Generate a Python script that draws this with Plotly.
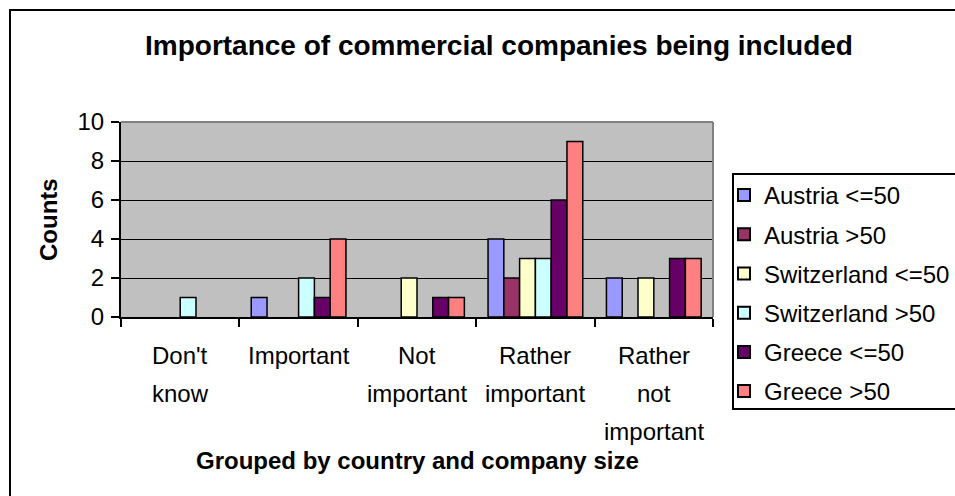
import plotly.graph_objects as go

categories = ["Don't<br>know", "Important", "Not<br>important", "Rather<br>important", "Rather<br>not<br>important"]
series_names = ["Austria <=50", "Austria >50", "Switzerland <=50", "Switzerland >50", "Greece <=50", "Greece >50"]
austria_small = [0, 1, 0, 4, 2]
austria_large = [0, 0, 0, 2, 0]
swiss_small = [0, 0, 2, 3, 2]
swiss_large = [1, 2, 0, 3, 0]
greece_small = [0, 1, 1, 6, 3]
greece_large = [0, 4, 1, 9, 3]
series_values = [austria_small, austria_large, swiss_small, swiss_large, greece_small, greece_large]
colors = ["#9999FF", "#993366", "#FFFFCC", "#CCFFFF", "#660066", "#FF8080"]
y_ticks = [0, 2, 4, 6, 8, 10]

FONT = "Liberation Sans, Arial, sans-serif"
W, H = 955, 496
L, R, T, B = 121, 713, 122, 317  # plot area px

def px_x(px):
    return (px - L) / (R - L)

def px_y(py):
    return 1 - (py - T) / (B - T)

fig = go.Figure()
for i, (name, vals, col) in enumerate(zip(series_names, series_values, colors)):
    fig.add_trace(go.Bar(
        x=categories, y=vals, name=name, legendgroup=f"g{i}",
        marker=dict(color=col, line=dict(color="black", width=[1.5 if v else 0 for v in vals])),
    ))

fig.update_layout(
    width=W, height=H,
    margin=dict(l=L, r=W - R, t=T, b=H - B, autoexpand=False),
    paper_bgcolor="white",
    plot_bgcolor="#C0C0C0",
    barmode="group", bargap=0.2, bargroupgap=0,
    font=dict(family=FONT, size=24, color="black"),
    title=dict(text="<b>Importance of commercial companies being included</b>",
               font=dict(family=FONT, size=28, color="black"),
               x=499 / W, xanchor="center", xref="container",
               y=1 - 45 / H, yanchor="middle", yref="container"),
    legend=dict(x=px_x(724), xanchor="left", y=px_y(173), yanchor="top",
                bgcolor="rgba(0,0,0,0)", borderwidth=0, maxheight=480,
                font=dict(family=FONT, size=24, color="black"),
                tracegroupgap=5, itemsizing="constant"),
    showlegend=True,
)
fig.update_xaxes(
    showline=True, linecolor="black", linewidth=2,
    ticks="outside", tickson="boundaries", ticklen=8, tickwidth=2, tickcolor="black",
    showgrid=False, showticklabels=False,
)
fig.update_yaxes(
    range=[0, 10], tickvals=y_ticks, showline=True, linecolor="black", linewidth=2,
    ticks="outside", ticklen=8, tickwidth=2, tickcolor="black",
    showgrid=True, gridcolor="black", gridwidth=1, zeroline=False,
    tickfont=dict(family=FONT, size=24, color="black"), ticklabelstandoff=2,
)

shapes = [
    dict(type="rect", xref="paper", yref="paper", x0=px_x(10), x1=px_x(965), y0=px_y(505), y1=px_y(10),
         line=dict(color="black", width=2), fillcolor="rgba(0,0,0,0)", layer="below"),
    dict(type="line", xref="paper", yref="paper", x0=0, x1=1, y0=1, y1=1, line=dict(color="#808080", width=2)),
    dict(type="line", xref="paper", yref="paper", x0=1, x1=1, y0=0, y1=1, line=dict(color="#808080", width=2)),
    dict(type="rect", xref="paper", yref="paper", x0=px_x(733), x1=px_x(975), y0=px_y(409), y1=px_y(174),
         line=dict(color="black", width=2), fillcolor="rgba(0,0,0,0)", layer="below"),
]
fig.update_layout(shapes=shapes)

# category labels, one text line per annotation (Excel-like line spacing)
line_px = [355, 393, 431]
for cat in categories:
    for j, part in enumerate(cat.split("<br>")):
        fig.add_annotation(text=part, xref="x", yref="paper", x=cat, y=px_y(line_px[j]),
                           showarrow=False, xanchor="center", yanchor="middle",
                           font=dict(family=FONT, size=24, color="black"))

fig.add_annotation(text="<b>Counts</b>", xref="paper", yref="paper", x=px_x(48), y=px_y(220),
                   textangle=-90, showarrow=False, font=dict(family=FONT, size=24, color="black"),
                   xanchor="center", yanchor="middle")
fig.add_annotation(text="<b>Grouped by country and company size</b>", xref="paper", yref="paper",
                   x=px_x(417), y=px_y(460), showarrow=False,
                   font=dict(family=FONT, size=24, color="black"), xanchor="center", yanchor="middle")

fig.write_html("out.html")
